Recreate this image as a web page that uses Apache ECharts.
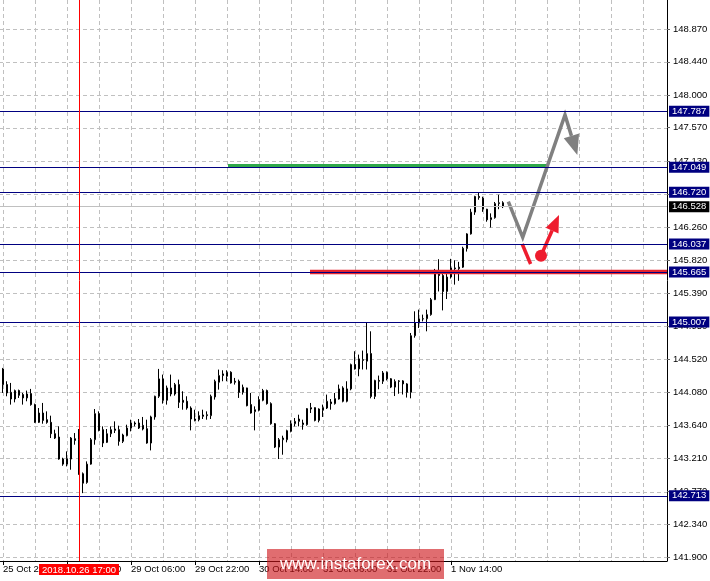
<!DOCTYPE html>
<html><head><meta charset="utf-8">
<script src="https://cdn.jsdelivr.net/npm/echarts@6/dist/echarts.min.js"></script>
<style>html,body{margin:0;padding:0;background:#fff}#c{width:710px;height:581px}</style>
</head><body><div id="c"></div>
<script>
// ---- data (H1 bars, index k = -1 .. 125) ----
const opens = [144.42,144.388,144.181,144.079,143.991,144.102,144.049,144.005,144.062,143.917,143.683,143.806,143.718,143.683,143.533,143.489,143.199,143.132,143.199,143.467,143.454,143.005,142.890,143.132,143.454,143.798,143.586,143.419,143.533,143.577,143.586,143.432,143.507,143.608,143.661,143.608,143.643,143.599,143.410,143.754,144.027,144.256,143.974,144.137,144.057,144.181,143.974,143.961,143.872,143.727,143.718,143.762,143.771,143.771,144.018,144.212,144.300,144.291,144.344,144.225,144.225,144.079,144.137,143.917,143.824,143.842,143.974,144.102,143.930,143.665,143.357,143.454,143.454,143.564,143.665,143.696,143.652,143.652,143.859,143.877,143.709,143.842,143.872,143.952,143.930,143.991,144.137,143.961,144.124,144.445,144.388,144.500,144.490,144.590,144.025,144.236,144.225,144.342,144.258,144.148,144.223,144.230,144.190,144.080,144.826,144.994,145.047,145.050,145.104,145.302,145.646,145.620,145.410,145.600,145.720,145.710,145.730,145.975,146.169,146.456,146.663,146.640,146.495,146.357,146.383,146.569,146.580];
const closes = [144.39,144.181,144.071,143.991,144.102,144.040,144.005,144.057,143.917,143.683,143.806,143.709,143.683,143.533,143.476,143.199,143.132,143.203,143.476,143.445,143.000,142.881,143.132,143.454,143.798,143.577,143.410,143.533,143.586,143.595,143.432,143.516,143.608,143.674,143.674,143.674,143.595,143.410,143.754,144.027,144.256,143.974,144.137,144.057,144.181,143.947,143.947,143.872,143.727,143.709,143.771,143.780,143.784,144.027,144.225,144.300,144.322,144.344,144.203,144.212,144.079,144.146,143.903,143.806,143.850,143.983,144.102,143.930,143.665,143.357,143.454,143.476,143.573,143.665,143.696,143.727,143.674,143.864,143.877,143.709,143.859,143.877,143.961,143.930,143.996,144.124,143.961,144.124,144.445,144.388,144.520,144.510,144.590,144.025,144.236,144.225,144.335,144.258,144.148,144.223,144.230,144.190,144.080,144.826,144.994,145.047,145.050,145.104,145.302,145.646,145.620,145.410,145.600,145.720,145.710,145.730,145.980,146.169,146.456,146.663,146.650,146.495,146.355,146.383,146.569,146.580,146.528];
const lows = [144.36,144.071,144.027,143.917,143.947,144.005,143.917,143.961,143.903,143.674,143.674,143.665,143.665,143.476,143.463,143.190,143.110,143.102,143.058,143.388,142.991,142.749,142.873,143.124,143.388,143.564,143.357,143.410,143.489,143.542,143.375,143.410,143.498,143.564,143.630,143.595,143.577,143.401,143.313,143.718,144.005,143.930,143.917,144.027,144.035,143.872,143.850,143.850,143.577,143.696,143.696,143.727,143.718,143.727,143.983,144.115,144.225,144.225,144.194,144.181,144.005,144.049,143.894,143.798,143.577,143.828,143.961,143.917,143.652,143.344,143.199,143.256,143.419,143.551,143.630,143.630,143.586,143.639,143.806,143.696,143.683,143.754,143.859,143.850,143.917,143.983,143.947,143.947,144.106,144.379,144.291,144.380,144.380,144.000,143.990,144.120,144.190,144.236,144.135,144.030,144.060,144.050,144.010,144.000,144.800,144.928,145.015,144.884,145.090,145.296,145.410,145.160,145.310,145.580,145.500,145.550,145.720,145.936,146.160,146.420,146.620,146.460,146.330,146.253,146.370,146.495,146.510];
const highs = [144.44,144.401,144.225,144.203,144.115,144.115,144.071,144.102,144.124,143.930,143.872,143.939,143.828,143.771,143.586,143.630,143.216,143.300,143.489,143.542,143.595,143.022,143.168,143.476,143.859,143.828,143.630,143.595,143.630,143.696,143.639,143.533,143.652,143.718,143.696,143.727,143.754,143.718,143.771,144.035,144.388,144.313,144.168,144.313,144.203,144.247,144.093,144.027,143.894,143.850,143.828,143.850,143.828,144.049,144.247,144.379,144.370,144.370,144.357,144.269,144.247,144.181,144.140,144.071,143.894,144.027,144.124,144.115,143.947,143.674,143.476,143.507,143.586,143.709,143.740,143.784,143.718,143.872,143.939,143.881,143.868,143.917,144.049,143.991,144.071,144.181,144.159,144.225,144.458,144.621,144.577,144.630,145.003,144.884,144.245,144.300,144.360,144.355,144.267,144.250,144.240,144.240,144.200,144.862,145.148,145.170,145.104,145.170,145.324,145.707,145.835,145.690,145.640,145.840,145.820,145.800,146.000,146.178,146.500,146.672,146.720,146.660,146.500,146.440,146.590,146.685,146.600];

const yTicks = [141.900,142.340,142.770,143.210,143.640,144.080,144.520,144.950,145.390,145.820,146.260,146.690,147.130,147.570,148.000,148.440,148.870];
const levels = [147.787,147.049,146.720,146.037,145.665,145.007,142.713];
const bidPrice = 146.528;
const markedBarK = 19;                 // 2018.10.26 17:00
const greenSeg = [[56.25,147.069],[136.5,147.069]];
const redSeg = [[76.75,145.665],[166,145.665]];
const grayPath = [[126.33,146.594],[129.93,146.124],[140.5,147.738],[143.58,147.21]];
const redStroke = [[129.8,146.036],[131.9,145.772]];
const redDot = [134.5,145.882];
const redArrowTip = [139.0,146.418];
const firstBarUTC = [2018, 9, 25, 21];  // bar k = -1
const barCount = 168;                   // k = -1 .. 166 (incl. empty future bars)

// ---- categories (hourly, no weekend bars) ----
const months = ['Jan','Feb','Mar','Apr','May','Jun','Jul','Aug','Sep','Oct','Nov','Dec'];
const pad = n => String(n).padStart(2,'0');
const categories = [];
let t = Date.UTC(...firstBarUTC);
while (categories.length < barCount) {
  const d = new Date(t);
  const wd = d.getUTCDay();
  if (wd !== 0 && wd !== 6) {
    categories.push(d.getUTCFullYear()+'.'+pad(d.getUTCMonth()+1)+'.'+pad(d.getUTCDate())+' '+pad(d.getUTCHours())+':00');
  }
  t += 3600000;
}
const shortLabel = s => { const p = s.split(/[. ]/); return (+p[2])+' '+months[+p[1]-1]+' '+p[3]; };

const candleData = opens.map((o,i) => [o, closes[i], lows[i], highs[i]]);
const lastBarIndex = candleData.length - 1;
const labelAt = i => (i-1) % 16 === 0 && i <= lastBarIndex;

const FONT = '"Liberation Sans", Arial, sans-serif';
const chart = echarts.init(document.getElementById('c'), null, {renderer:'canvas'});

function arrowHead(a, b, len, half) {
  const dx = b[0]-a[0], dy = b[1]-a[1], L = Math.hypot(dx,dy);
  const ux = dx/L, uy = dy/L;
  const base = [b[0]-ux*len, b[1]-uy*len];
  const nx = -uy, ny = ux;
  return { base, pts: [b, [base[0]+nx*half, base[1]+ny*half], [base[0]-nx*half, base[1]-ny*half]] };
}

function renderGrid(params, api) {
  const children = yTicks.map(v => {
    const a = api.coord([-1, v]), b = api.coord([166, v]);
    const y = Math.round(a[1]) + 0.5;
    return {type:'line', shape:{x1:a[0], y1:y, x2:b[0], y2:y}, style:{stroke:'#c0c0c0', lineWidth:1, lineDash:[4,3]}};
  });
  return {type:'group', children};
}

function renderAnnotations(params, api) {
  const P = p => api.coord(p);
  const ch = [];
  ch.push({type:'polyline', shape:{points: greenSeg.map(P)}, style:{stroke:'#2fa84a', lineWidth:3.5, fill:null}});
  ch.push({type:'polyline', shape:{points: redSeg.map(P)}, style:{stroke:'#e5232e', lineWidth:4.5, fill:null}});
  const g = grayPath.map(P);
  const gh = arrowHead(g[g.length-2], g[g.length-1], 20, 8);
  ch.push({type:'polyline', shape:{points: g.slice(0,-1).concat([gh.base])}, style:{stroke:'#808080', lineWidth:3.5, fill:null, lineJoin:'miter'}});
  ch.push({type:'polygon', shape:{points: gh.pts}, style:{fill:'#808080'}});
  ch.push({type:'polyline', shape:{points: redStroke.map(P)}, style:{stroke:'#ee1c2e', lineWidth:3.5, fill:null}});
  const d = P(redDot), tip = P(redArrowTip);
  const rh = arrowHead(d, tip, 17, 7);
  ch.push({type:'line', shape:{x1:d[0], y1:d[1], x2:rh.base[0], y2:rh.base[1]}, style:{stroke:'#ee1c2e', lineWidth:3.5}});
  ch.push({type:'polygon', shape:{points: rh.pts}, style:{fill:'#ee1c2e'}});
  ch.push({type:'circle', shape:{cx:d[0], cy:d[1], r:6}, style:{fill:'#ee1c2e'}});
  return {type:'group', children: ch};
}

const levelLabel = {
  show:true, position:'end', distance:2, formatter: p => (+p.value).toFixed(3),
  backgroundColor:'#000080', color:'#fff', padding:[1,3,0,3], fontSize:9.5, fontFamily:FONT, lineHeight:10
};

const option = {
  animation:false,
  backgroundColor:'#fff',
  textStyle:{fontFamily:FONT},
  grid:{left:-1, right:43, top:0, bottom:20, containLabel:false, outerBoundsMode:'none'},
  xAxis:[{
    type:'category', data:categories, boundaryGap:false,
    axisLine:{show:true, onZero:false, lineStyle:{color:'#000', width:1}},
    axisTick:{show:true, length:4, interval:(i)=> labelAt(i), lineStyle:{color:'#000'}},
    axisLabel:{show:true, interval:(i)=> labelAt(i), formatter: v => shortLabel(v), align:'left', color:'#000', fontSize:9.5, margin:3, fontFamily:FONT},
    splitLine:{show:true, interval:(i)=> (i-1)%8===0, lineStyle:{color:'#c0c0c0', width:1, type:[4,3]}}
  },{
    type:'value', min:-1, max:166, show:false
  }],
  yAxis:[{
    type:'value', position:'right', min:141.8538, max:149.2549, scale:true,
    axisLine:{show:true, onZero:false, lineStyle:{color:'#000', width:1}},
    axisTick:{show:true, length:3, customValues:yTicks, lineStyle:{color:'#666'}},
    axisLabel:{show:true, customValues:yTicks, formatter: v => (+v).toFixed(3), color:'#000', fontSize:9.5, margin:6, fontFamily:FONT},
    splitLine:{show:false}
  }],
  series:[
    {type:'custom', name:'grid', xAxisIndex:1, yAxisIndex:0, z:0, silent:true, data:[[0,145]], renderItem:renderGrid},
    {
      type:'candlestick', xAxisIndex:0, yAxisIndex:0, z:2, barWidth:2,
      data:candleData,
      itemStyle:{color:'#fff', color0:'#000', borderColor:'#000', borderColor0:'#000', borderWidth:1},
      markLine:{
        silent:true, symbol:['none','none'], precision:3, animation:false,
        lineStyle:{color:'#000080', width:1, type:'solid'},
        label:levelLabel,
        data: levels.map(v => ({yAxis:v}))
          .concat([{yAxis:bidPrice, lineStyle:{color:'#c0c0c0', type:'solid'}, label:Object.assign({}, levelLabel, {backgroundColor:'#000'})}])
          .concat([{xAxis:categories[markedBarK+1], lineStyle:{color:'#ff0000', type:'solid', width:1},
                    label:{show:true, position:'start', distance:3, formatter: categories[markedBarK+1],
                           backgroundColor:'#ff0000', color:'#fff', padding:[1,3,0,3], fontSize:9.5, fontFamily:FONT, lineHeight:10}}])
      }
    },
    {type:'custom', name:'drawings', xAxisIndex:1, yAxisIndex:0, z:3, silent:true, data:[[0,145]], renderItem:renderAnnotations}
  ],
  graphic:[
    {type:'rect', shape:{x:267, y:549, width:177, height:30}, style:{fill:'rgba(205,20,25,0.62)'}, z:100, silent:true},
    {type:'text', x:355.5, y:564.5, style:{text:'www.instaforex.com', fill:'#fff', font:'17px "Liberation Sans", Arial, sans-serif', align:'center', verticalAlign:'middle'}, z:101, silent:true}
  ]
};
chart.setOption(option);
</script>
</body></html>
